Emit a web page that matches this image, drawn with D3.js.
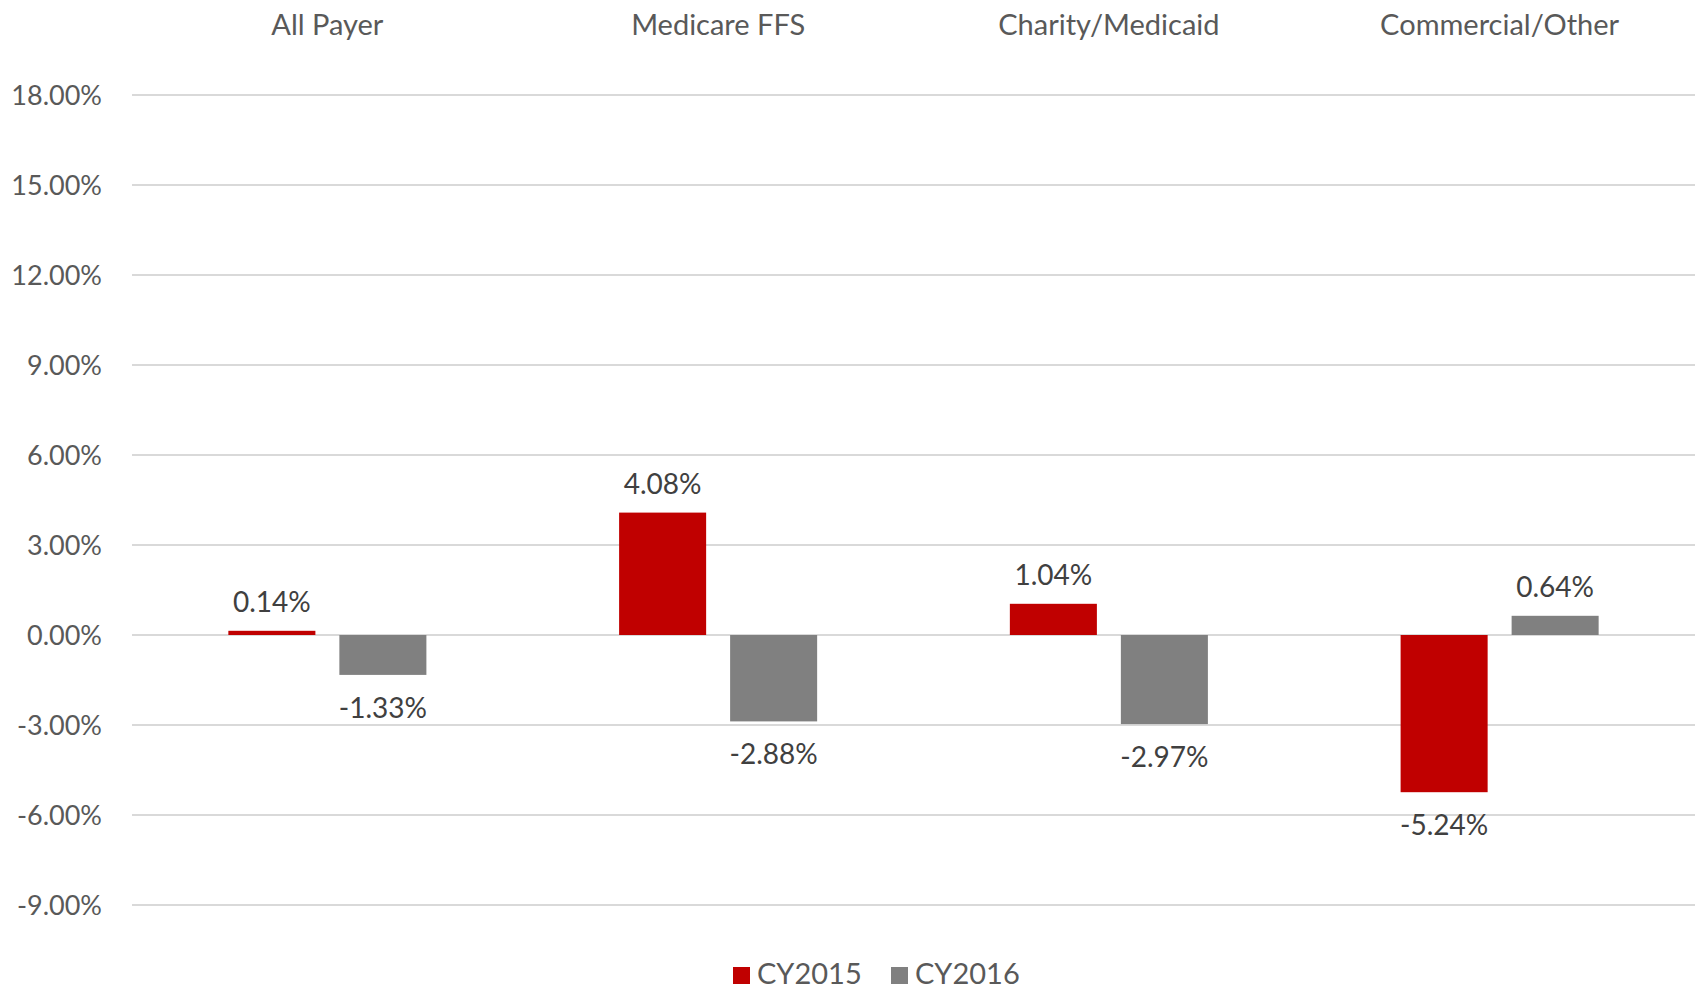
<!DOCTYPE html>
<html>
<head>
<meta charset="utf-8">
<script src="https://cdn.jsdelivr.net/npm/d3@7"></script>
<style>
  body { margin: 0; background: #fff; }
  svg { font-family: "Gill Sans", "Gill Sans MT", Lato, sans-serif; }
</style>
</head>
<body>
<svg id="chart" width="1695" height="990"></svg>
<script>
// chart data
var categories = ['All Payer', 'Medicare FFS', 'Charity/Medicaid', 'Commercial/Other'];
var seriesNames = ['CY2015', 'CY2016'];
var cy2015 = [0.14, 4.08, 1.04, -5.24];
var cy2016 = [-1.33, -2.88, -2.97, 0.64];
var yTicks = [-9, -6, -3, 0, 3, 6, 9, 12, 15, 18];
var colors = ['#C00000', '#808080'];

var svg = d3.select('#chart');

var plotLeft = 132, plotRight = 1695, plotTop = 95, plotBottom = 905;

// excel-style percent, plain hyphen for negatives
function pct(d)
{
    return d3.format('.2f')(d).replace('\u2212', '-') + '%';
}

var x0 = d3.scaleBand()
    .domain(categories)
    .range([plotLeft, plotRight]);

var x1 = d3.scaleBand()
    .domain(seriesNames)
    .range([0, x0.bandwidth()])
    .paddingInner(0.216)
    .paddingOuter(0.868);

var y = d3.scaleLinear()
    .domain([-9, 18])
    .range([plotBottom, plotTop]);

var color = d3.scaleOrdinal().domain(seriesNames).range(colors);

// gridlines
svg.append('g')
    .selectAll('line')
    .data(yTicks)
    .enter()
    .append('line')
    .attr('x1', plotLeft)
    .attr('x2', plotRight)
    .attr('y1', function(d) { return y(d); })
    .attr('y2', function(d) { return y(d); })
    .attr('stroke', '#D9D9D9')
    .attr('stroke-width', 2);

// y axis labels
var yAxis = d3.axisLeft(y)
    .tickValues(yTicks)
    .tickSize(0)
    .tickPadding(0)
    .tickFormat(pct);

var yg = svg.append('g')
    .attr('transform', 'translate(102,0)')
    .call(yAxis);
yg.select('.domain').remove();
yg.selectAll('text')
    .attr('fill', '#595959')
    .style('font-size', '27px')
    .style('font-family', '"Gill Sans", "Gill Sans MT", Lato, sans-serif')
    .attr('dy', '0.35em');

// category labels along the top
var xAxis = d3.axisTop(x0).tickSize(0).tickPadding(0);
var xg = svg.append('g')
    .attr('transform', 'translate(0,35)')
    .call(xAxis);
xg.select('.domain').remove();
xg.selectAll('text')
    .attr('fill', '#595959')
    .attr('dy', 0)
    .style('font-size', '29px')
    .style('font-family', '"Gill Sans", "Gill Sans MT", Lato, sans-serif');

// bars
var rows = categories.map(function(c, i) {
    return [
        { cat: c, name: 'CY2015', value: cy2015[i] },
        { cat: c, name: 'CY2016', value: cy2016[i] }
    ];
});

var groups = svg.append('g')
    .selectAll('g')
    .data(rows)
    .enter()
    .append('g')
    .attr('transform', function(d) { return 'translate(' + x0(d[0].cat) + ',0)'; });

groups.selectAll('rect')
    .data(function(d) { return d; })
    .enter()
    .append('rect')
    .attr('x', function(d) { return x1(d.name); })
    .attr('width', x1.bandwidth())
    .attr('y', function(d) { return d.value >= 0 ? y(d.value) : y(0); })
    .attr('height', function(d) { return Math.abs(y(d.value) - y(0)); })
    .attr('fill', function(d) { return color(d.name); });

groups.selectAll('text')
    .data(function(d) { return d; })
    .enter()
    .append('text')
    .attr('x', function(d) { return x1(d.name) + x1.bandwidth() / 2; })
    .attr('y', function(d) { return d.value >= 0 ? y(d.value) - 19 : y(d.value) + 43; })
    .attr('text-anchor', 'middle')
    .attr('fill', '#404040')
    .style('font-size', '28px')
    .text(function(d) { return pct(d.value); });

// legend
var legend = svg.append('g')
    .attr('transform', 'translate(733,967)');

var legendX = [0, 158];
var items = legend.selectAll('g')
    .data(seriesNames)
    .enter()
    .append('g')
    .attr('transform', function(d, i) { return 'translate(' + legendX[i] + ',0)'; });

items.append('rect')
    .attr('width', 17)
    .attr('height', 17)
    .attr('fill', function(d) { return color(d); });

items.append('text')
    .attr('x', 24)
    .attr('y', 17)
    .attr('fill', '#595959')
    .style('font-size', '29px')
    .text(function(d) { return d; });
</script>
</body>
</html>
